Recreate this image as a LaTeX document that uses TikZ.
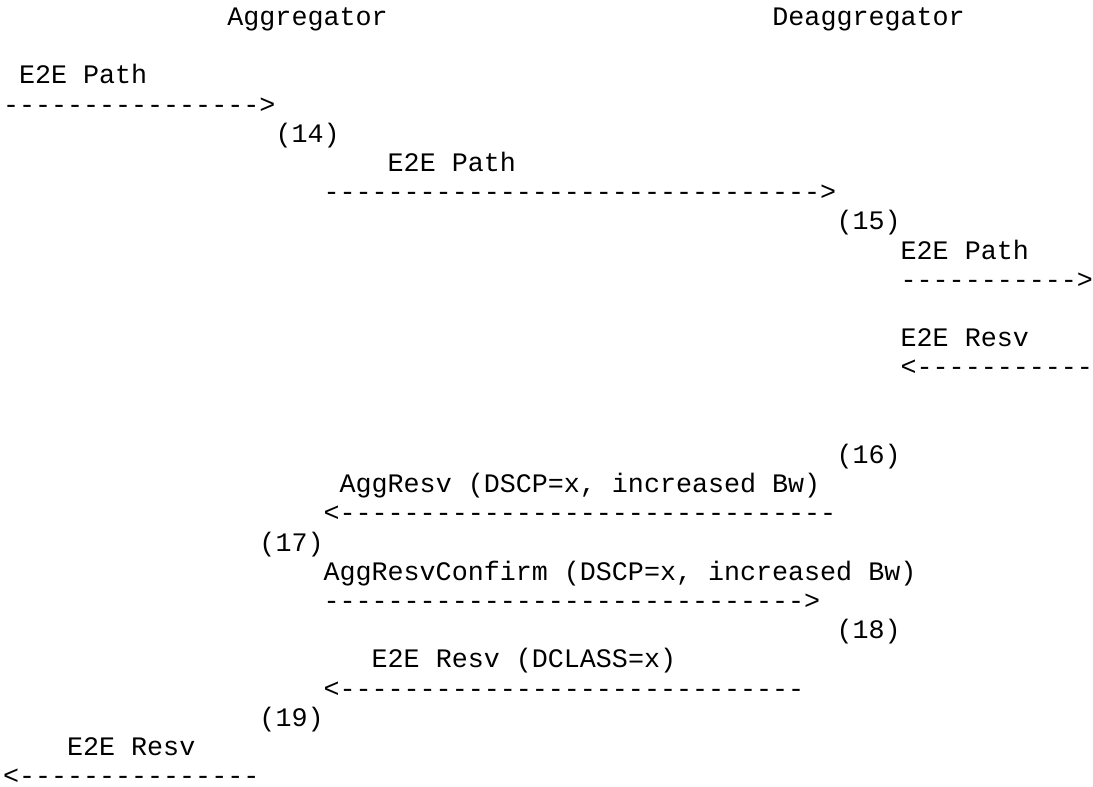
\documentclass[tikz,border=0pt]{standalone}
\usepackage{fontspec}
\setmonofont{Liberation Mono}
\def\tendash{----------}
\tikzset{txt/.style={anchor=base west, inner sep=0pt, outer sep=0pt,
  font=\ttfamily\frenchspacing\fontsize{26.7}{29.2}\selectfont}}
\newcommand\asciitext[5][]{\node[txt,#1] (#4) at ({3+#2*16.03},{-(25.5+29.2*#3)}) {#5};}
\begin{document}
\begin{tikzpicture}[x=1pt,y=1pt]
\useasboundingbox (0,0) rectangle (1093,-787);
\asciitext{14}{0}{agg}{Aggregator}
\asciitext{48}{0}{deagg}{Deaggregator}
\asciitext{1}{2}{p1}{E2E Path}
\asciitext{0}{3}{a1}{\tendash------>}
\asciitext{17}{4}{n14}{(14)}
\asciitext{24}{5}{p2}{E2E Path}
\asciitext{20}{6}{a2}{\tendash\tendash\tendash->}
\asciitext{52}{7}{n15}{(15)}
\asciitext{56}{8}{p3}{E2E Path}
\asciitext{56}{9}{a3}{\tendash->}
\asciitext{56}{11}{r3}{E2E Resv}
\asciitext{56}{12}{b3}{<\tendash-}
\asciitext{52}{15}{n16}{(16)}
\asciitext{21}{16}{r4}{AggResv (DSCP=x, increased Bw)}
\asciitext{20}{17}{b4}{<\tendash\tendash\tendash-}
\asciitext{16}{18}{n17}{(17)}
\asciitext{20}{19}{c5}{AggResvConfirm (DSCP=x, increased Bw)}
\asciitext{20}{20}{a5}{\tendash\tendash\tendash>}
\asciitext{52}{21}{n18}{(18)}
\asciitext{23}{22}{r6}{E2E Resv (DCLASS=x)}
\asciitext{20}{23}{b6}{<\tendash\tendash---------}
\asciitext{16}{24}{n19}{(19)}
\asciitext{4}{25}{r7}{E2E Resv}
\asciitext[text depth=0pt]{0}{26}{b7}{<\tendash-----}
\end{tikzpicture}
\end{document}
